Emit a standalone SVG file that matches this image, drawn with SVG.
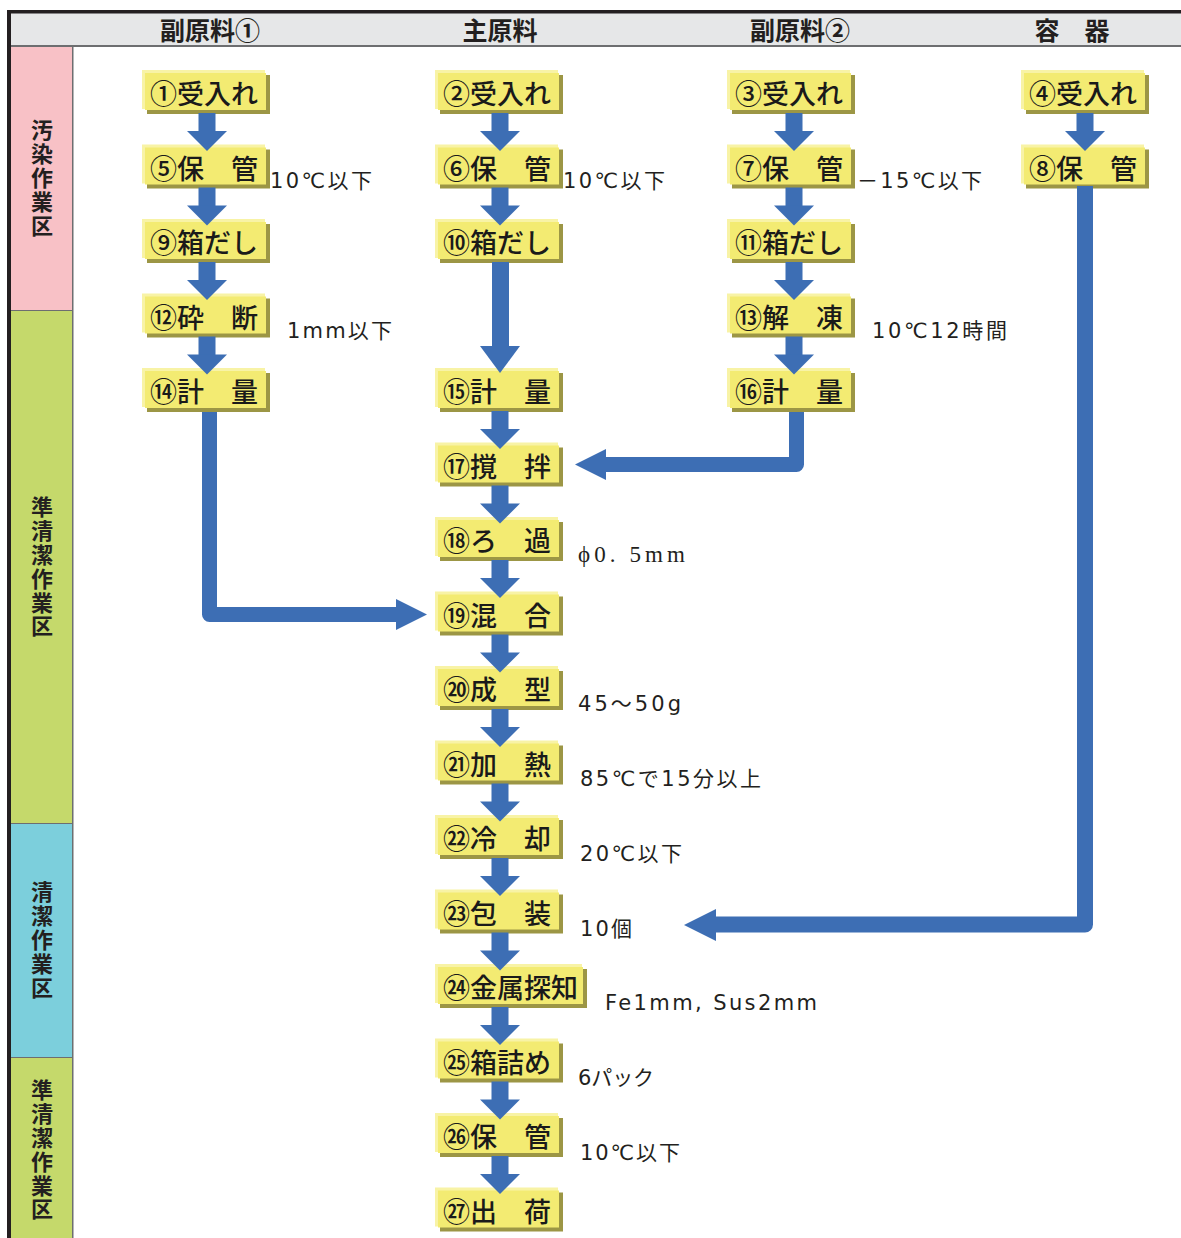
<svg xmlns="http://www.w3.org/2000/svg" width="1181" height="1238" viewBox="0 0 1181 1238">
<style>
.sh{fill:#9c9645}
.lt{fill:#f8f3a6}
.bx{fill:#f3eb72}
.nt{font-family:"Noto Sans CJK JP","Noto Sans",sans-serif;font-size:27px;font-weight:500;fill:#1a1a1a}
.lb{font-family:"DejaVu Sans","Noto Sans CJK JP",sans-serif;font-size:21px;fill:#231f20}
.lbs{font-family:"Liberation Serif","DejaVu Serif","Noto Sans CJK JP",serif;font-size:23px;fill:#231f20}
.hd{font-family:"Noto Sans CJK JP","Noto Sans",sans-serif;font-size:25px;font-weight:700;fill:#231f20;text-anchor:middle}
.zn{font-family:"Noto Sans CJK JP","Noto Sans",sans-serif;font-size:22px;font-weight:700;fill:#231f20;writing-mode:vertical-rl;letter-spacing:1.8px}
.ar{fill:#3d6eb4}
.ln{fill:none;stroke:#3d6eb4;stroke-linejoin:round}
</style>
<defs>
<g id="sa"><rect x="-8.5" y="0" width="17" height="19" class="ar"/><polygon points="-20,18 20,18 0,38" class="ar"/></g>
</defs>
<rect x="0" y="0" width="1181" height="1238" fill="#ffffff"/>
<g id="frame">
<rect x="11" y="13" width="1170" height="33" fill="#e6e7e8"/>
<rect x="7" y="10" width="1174" height="3.5" fill="#231f20"/>
<rect x="7" y="10" width="4" height="1228" fill="#231f20"/>
<rect x="11" y="45" width="1170" height="2" fill="#6d6e70"/>
<rect x="11" y="47" width="61" height="263" fill="#f8c1c6"/>
<rect x="11" y="311" width="61" height="512" fill="#c5d96b"/>
<rect x="11" y="824" width="61" height="233" fill="#7ccfdc"/>
<rect x="11" y="1058" width="61" height="180" fill="#c5d96b"/>
<rect x="72" y="47" width="1.5" height="1191" fill="#6d6e70"/>
<rect x="11" y="310" width="61" height="1" fill="#6d6e70"/>
<rect x="11" y="823" width="61" height="1" fill="#6d6e70"/>
<rect x="11" y="1057" width="61" height="1" fill="#6d6e70"/>
</g>
<g id="header">
<text class="hd" x="210" y="40">副原料①</text>
<text class="hd" x="500" y="40">主原料</text>
<text class="hd" x="800" y="40">副原料②</text>
<text class="hd" x="1072" y="40">容　器</text>
</g>
<g id="zones">
<text class="zn" x="42" y="119">汚染作業区</text>
<text class="zn" x="42" y="496">準清潔作業区</text>
<text class="zn" x="42" y="881">清潔作業区</text>
<text class="zn" x="42" y="1079">準清潔作業区</text>
</g>
<g id="nodes">
<g id="n1"><rect class="sh" x="147" y="75" width="123" height="39"/><rect class="lt" x="142" y="70" width="123" height="39"/><rect class="bx" x="145" y="73" width="121" height="37"/><text class="nt" x="150" y="104">①受入れ</text></g>
<g id="n5"><rect class="sh" x="147" y="149.5" width="123" height="39"/><rect class="lt" x="142" y="144.5" width="123" height="39"/><rect class="bx" x="145" y="147.5" width="121" height="37"/><text class="nt" x="150" y="178.5">⑤保　管</text></g>
<g id="n9"><rect class="sh" x="147" y="224" width="123" height="39"/><rect class="lt" x="142" y="219" width="123" height="39"/><rect class="bx" x="145" y="222" width="121" height="37"/><text class="nt" x="150" y="253">⑨箱だし</text></g>
<g id="n12"><rect class="sh" x="147" y="298.5" width="123" height="39"/><rect class="lt" x="142" y="293.5" width="123" height="39"/><rect class="bx" x="145" y="296.5" width="121" height="37"/><text class="nt" x="150" y="327.5">⑫砕　断</text></g>
<g id="n14"><rect class="sh" x="147" y="373" width="123" height="39"/><rect class="lt" x="142" y="368" width="123" height="39"/><rect class="bx" x="145" y="371" width="121" height="37"/><text class="nt" x="150" y="402">⑭計　量</text></g>

<g id="n2"><rect class="sh" x="440" y="75" width="123" height="39"/><rect class="lt" x="435" y="70" width="123" height="39"/><rect class="bx" x="438" y="73" width="121" height="37"/><text class="nt" x="443" y="104">②受入れ</text></g>
<g id="n6"><rect class="sh" x="440" y="149.5" width="123" height="39"/><rect class="lt" x="435" y="144.5" width="123" height="39"/><rect class="bx" x="438" y="147.5" width="121" height="37"/><text class="nt" x="443" y="178.5">⑥保　管</text></g>
<g id="n10"><rect class="sh" x="440" y="224" width="123" height="39"/><rect class="lt" x="435" y="219" width="123" height="39"/><rect class="bx" x="438" y="222" width="121" height="37"/><text class="nt" x="443" y="253">⑩箱だし</text></g>
<g id="n15"><rect class="sh" x="440" y="373" width="123" height="39"/><rect class="lt" x="435" y="368" width="123" height="39"/><rect class="bx" x="438" y="371" width="121" height="37"/><text class="nt" x="443" y="402">⑮計　量</text></g>
<g id="n17"><rect class="sh" x="440" y="447.5" width="123" height="39"/><rect class="lt" x="435" y="442.5" width="123" height="39"/><rect class="bx" x="438" y="445.5" width="121" height="37"/><text class="nt" x="443" y="476.5">⑰撹　拌</text></g>
<g id="n18"><rect class="sh" x="440" y="522" width="123" height="39"/><rect class="lt" x="435" y="517" width="123" height="39"/><rect class="bx" x="438" y="520" width="121" height="37"/><text class="nt" x="443" y="551">⑱ろ　過</text></g>
<g id="n19"><rect class="sh" x="440" y="596.5" width="123" height="39"/><rect class="lt" x="435" y="591.5" width="123" height="39"/><rect class="bx" x="438" y="594.5" width="121" height="37"/><text class="nt" x="443" y="625.5">⑲混　合</text></g>
<g id="n20"><rect class="sh" x="440" y="671" width="123" height="39"/><rect class="lt" x="435" y="666" width="123" height="39"/><rect class="bx" x="438" y="669" width="121" height="37"/><text class="nt" x="443" y="700">⑳成　型</text></g>
<g id="n21"><rect class="sh" x="440" y="745.5" width="123" height="39"/><rect class="lt" x="435" y="740.5" width="123" height="39"/><rect class="bx" x="438" y="743.5" width="121" height="37"/><text class="nt" x="443" y="774.5">㉑加　熱</text></g>
<g id="n22"><rect class="sh" x="440" y="820" width="123" height="39"/><rect class="lt" x="435" y="815" width="123" height="39"/><rect class="bx" x="438" y="818" width="121" height="37"/><text class="nt" x="443" y="849">㉒冷　却</text></g>
<g id="n23"><rect class="sh" x="440" y="894.5" width="123" height="39"/><rect class="lt" x="435" y="889.5" width="123" height="39"/><rect class="bx" x="438" y="892.5" width="121" height="37"/><text class="nt" x="443" y="923.5">㉓包　装</text></g>
<g id="n24"><rect class="sh" x="440" y="969" width="147" height="39"/><rect class="lt" x="435" y="964" width="147" height="39"/><rect class="bx" x="438" y="967" width="145" height="37"/><text class="nt" x="443" y="998">㉔金属探知</text></g>
<g id="n25"><rect class="sh" x="440" y="1043.5" width="123" height="39"/><rect class="lt" x="435" y="1038.5" width="123" height="39"/><rect class="bx" x="438" y="1041.5" width="121" height="37"/><text class="nt" x="443" y="1072.5">㉕箱詰め</text></g>
<g id="n26"><rect class="sh" x="440" y="1118" width="123" height="39"/><rect class="lt" x="435" y="1113" width="123" height="39"/><rect class="bx" x="438" y="1116" width="121" height="37"/><text class="nt" x="443" y="1147">㉖保　管</text></g>
<g id="n27"><rect class="sh" x="440" y="1192.5" width="123" height="39"/><rect class="lt" x="435" y="1187.5" width="123" height="39"/><rect class="bx" x="438" y="1190.5" width="121" height="37"/><text class="nt" x="443" y="1221.5">㉗出　荷</text></g>

<g id="n3"><rect class="sh" x="732" y="75" width="123" height="39"/><rect class="lt" x="727" y="70" width="123" height="39"/><rect class="bx" x="730" y="73" width="121" height="37"/><text class="nt" x="735" y="104">③受入れ</text></g>
<g id="n7"><rect class="sh" x="732" y="149.5" width="123" height="39"/><rect class="lt" x="727" y="144.5" width="123" height="39"/><rect class="bx" x="730" y="147.5" width="121" height="37"/><text class="nt" x="735" y="178.5">⑦保　管</text></g>
<g id="n11"><rect class="sh" x="732" y="224" width="123" height="39"/><rect class="lt" x="727" y="219" width="123" height="39"/><rect class="bx" x="730" y="222" width="121" height="37"/><text class="nt" x="735" y="253">⑪箱だし</text></g>
<g id="n13"><rect class="sh" x="732" y="298.5" width="123" height="39"/><rect class="lt" x="727" y="293.5" width="123" height="39"/><rect class="bx" x="730" y="296.5" width="121" height="37"/><text class="nt" x="735" y="327.5">⑬解　凍</text></g>
<g id="n16"><rect class="sh" x="732" y="373" width="123" height="39"/><rect class="lt" x="727" y="368" width="123" height="39"/><rect class="bx" x="730" y="371" width="121" height="37"/><text class="nt" x="735" y="402">⑯計　量</text></g>

<g id="n4"><rect class="sh" x="1026" y="75" width="123" height="39"/><rect class="lt" x="1021" y="70" width="123" height="39"/><rect class="bx" x="1024" y="73" width="121" height="37"/><text class="nt" x="1029" y="104">④受入れ</text></g>
<g id="n8"><rect class="sh" x="1026" y="149.5" width="123" height="39"/><rect class="lt" x="1021" y="144.5" width="123" height="39"/><rect class="bx" x="1024" y="147.5" width="121" height="37"/><text class="nt" x="1029" y="178.5">⑧保　管</text></g>
</g>
<g id="connectors">
<use href="#sa" x="207" y="113"/>
<use href="#sa" x="207" y="187.5"/>
<use href="#sa" x="207" y="262"/>
<use href="#sa" x="207" y="336.5"/>
<use href="#sa" x="500" y="113"/>
<use href="#sa" x="500" y="187.5"/>
<use href="#sa" x="500" y="411"/>
<use href="#sa" x="500" y="485.5"/>
<use href="#sa" x="500" y="560"/>
<use href="#sa" x="500" y="634.5"/>
<use href="#sa" x="500" y="709"/>
<use href="#sa" x="500" y="783.5"/>
<use href="#sa" x="500" y="858"/>
<use href="#sa" x="500" y="932.5"/>
<use href="#sa" x="500" y="1007"/>
<use href="#sa" x="500" y="1081.5"/>
<use href="#sa" x="500" y="1156"/>
<use href="#sa" x="794" y="113"/>
<use href="#sa" x="794" y="187.5"/>
<use href="#sa" x="794" y="262"/>
<use href="#sa" x="794" y="336.5"/>
<use href="#sa" x="1085" y="113"/>
<rect class="ar" x="492" y="262" width="17" height="86"/>
<polygon class="ar" points="480,346 520,346 500,373"/>
<path class="ln" stroke-width="15" d="M209.5 412 V614.5 H398"/>
<polygon class="ar" points="396,599 427,614.5 396,630"/>
<path class="ln" stroke-width="15" d="M796.5 412 V464.5 H604"/>
<polygon class="ar" points="606,449 575,464.5 606,480"/>
<path class="ln" stroke-width="16" d="M1085 186 V924.5 H714"/>
<polygon class="ar" points="716,909 684,925 716,941"/>
</g>
<g id="labels">
<text class="lb" x="270" y="188" textLength="102" lengthAdjust="spacing">10℃以下</text>
<text class="lb" x="563" y="188" textLength="102" lengthAdjust="spacing">10℃以下</text>
<text class="lb" x="857" y="188" textLength="125" lengthAdjust="spacing">－15℃以下</text>
<text class="lb" x="287" y="338" textLength="105" lengthAdjust="spacing">1mm以下</text>
<text class="lb" x="872" y="338" textLength="135" lengthAdjust="spacing">10℃12時間</text>
<text class="lbs" x="578" y="562" textLength="107" lengthAdjust="spacing">ϕ0. 5mm</text>
<text class="lb" x="578" y="711" textLength="103" lengthAdjust="spacing">45～50g</text>
<text class="lb" x="580" y="786" textLength="181" lengthAdjust="spacing">85℃で15分以上</text>
<text class="lb" x="580" y="861" textLength="102" lengthAdjust="spacing">20℃以下</text>
<text class="lb" x="580" y="936" textLength="52" lengthAdjust="spacing">10個</text>
<text class="lb" x="605" y="1010" textLength="212" lengthAdjust="spacing">Fe1mm, Sus2mm</text>
<text class="lb" x="578" y="1085" textLength="76" lengthAdjust="spacing">6パック</text>
<text class="lb" x="580" y="1160" textLength="100" lengthAdjust="spacing">10℃以下</text>
</g>
</svg>
